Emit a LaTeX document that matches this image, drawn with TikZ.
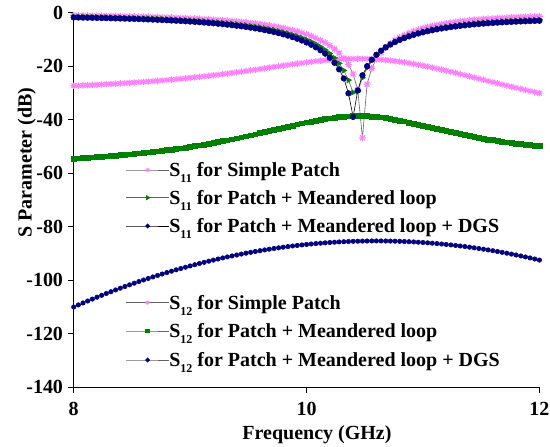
\documentclass[tikz,border=0pt]{standalone}
\usepackage{fontspec}
\setmainfont{Liberation Serif}
\usepackage{pgfplots}
\pgfplotsset{compat=1.18}

\definecolor{spink}{RGB}{255,128,255}
\definecolor{sgreen}{RGB}{0,128,0}
\definecolor{snavy}{RGB}{0,0,128}
\definecolor{trace}{RGB}{100,100,100}

% eight-spoke star marker
\pgfdeclareplotmark{xstar}{%
  \pgfpathmoveto{\pgfpoint{-\pgfplotmarksize}{0pt}}\pgfpathlineto{\pgfpoint{\pgfplotmarksize}{0pt}}%
  \pgfpathmoveto{\pgfpoint{0pt}{-\pgfplotmarksize}}\pgfpathlineto{\pgfpoint{0pt}{\pgfplotmarksize}}%
  \pgfpathmoveto{\pgfpoint{-.707\pgfplotmarksize}{-.707\pgfplotmarksize}}\pgfpathlineto{\pgfpoint{.707\pgfplotmarksize}{.707\pgfplotmarksize}}%
  \pgfpathmoveto{\pgfpoint{-.707\pgfplotmarksize}{.707\pgfplotmarksize}}\pgfpathlineto{\pgfpoint{.707\pgfplotmarksize}{-.707\pgfplotmarksize}}%
  \pgfusepathqstroke}

\newcommand\sbs[1]{\raisebox{-0.28em}{\fontsize{12}{12}\selectfont #1}}

\tikzset{
  txt/.style={font=\fontsize{20}{24}\selectfont\bfseries, inner sep=0pt, outer sep=0pt},
  axisline/.style={line width=1.3pt, draw=black},
  keyline/.style={line width=1pt, draw=trace},
  keydark/.style={line width=1pt, draw=black},
}

\begin{document}
\begin{tikzpicture}
\fill[white] (0pt,0pt) rectangle (550pt,-447pt);
\useasboundingbox (0pt,0pt) rectangle (550pt,-447pt);

% frame and ticks
\begin{scope}[x=1pt,y=-1pt]
  \coordinate (ytop) at (73.7,12.7);
  \coordinate (org)  at (73.7,387.3);
  \coordinate (xend) at (539.4,387.3);
  \draw[axisline] (ytop) -- (org) -- (xend);
  \foreach \v [count=\i] in {0,-20,-40,-60,-80,-100,-120,-140} {
    \pgfmathsetmacro\yy{12.7-\v*2.6757}
    \draw[axisline] (68,\yy) -- (73.7,\yy);
    \node[txt, anchor=east] (ylab\i) at (63,\yy) {\v};
  }
  \foreach \f/\xx [count=\i] in {8/73.7,10/306.55,12/539.4} {
    \draw[axisline] (\xx,387.3) -- (\xx,393.3);
    \node[txt, anchor=base] (xlab\i) at (\xx,415) {\f};
  }
  \node[txt, anchor=base] (xtitle) at (317,439.5) {Frequency (GHz)};
  \node[txt, anchor=base, rotate=90] (ytitle) at (31.5,162.5) {S Parameter (dB)};
\end{scope}

% measured traces
\begin{axis}[
  hide axis, scale only axis,
  width=465.7pt, height=374.6pt,
  xmin=8, xmax=12, ymin=-140, ymax=0,
  at={(73.7pt,-387.3pt)}, anchor=south west, clip=false,
  samples at={0,...,100},
  declare function={
    lor(\d,\w,\e)=10*log10((\d*\d/(\w*\w)+\e)/(1+\d*\d/(\w*\w)));
    drop(\d,\w,\D)=\D*(\d*\d/(\w*\w))/(1+\d*\d/(\w*\w));
    sA(\f)=ifthenelse(\f<10.48, lor(\f-10.48,1.08,0.000022)-0.3, lor(\f-10.48,0.85,0.000022)-0.2);
    sB(\f)=ifthenelse(\f<10.42, lor(\f-10.42,1.2,0.0009)-0.5, lor(\f-10.42,1.05,0.0009)-0.5-0.3*(\f-10.42));
    sC(\f)=ifthenelse(\f<10.4, lor(\f-10.4,1.27,0.00015)-0.7, lor(\f-10.4,1.1,0.00015)-0.7-0.4*(\f-10.4));
    tA(\f)=-17.2-ifthenelse(\f<10.45, drop(\f-10.45,1.31,13), drop(\f-10.45,1.79,30));
    tB(\f)=-38.6-ifthenelse(\f<10.46, drop(\f-10.46,1.25,20), drop(\f-10.46,1.0,16));
    tC(\f)=-85.3-3.65*(\f-10.6)*(\f-10.6);
  }]
  % S12
  \addplot[draw=trace, line width=0.6pt, mark=xstar, mark size=3.2pt,
    mark options={draw=spink, line width=1.1pt}] ({8+0.04*\x},{tA(8+0.04*\x)});
  \addplot[draw=trace, line width=0.6pt, mark=square*, mark size=2.4pt,
    mark options={draw=sgreen, fill=sgreen}] ({8+0.04*\x},{tB(8+0.04*\x)});
  \addplot[draw=trace, line width=0.6pt, mark=*, mark size=2.2pt,
    mark options={draw=snavy, fill=snavy}] ({8+0.04*\x},{tC(8+0.04*\x)});
  % S11
  \addplot[draw=trace, line width=0.6pt, mark=xstar, mark size=3.5pt,
    mark options={draw=spink, line width=1.1pt}] ({8+0.04*\x},{sA(8+0.04*\x)});
  \addplot[draw=trace, line width=0.6pt, mark=triangle*, mark size=3pt,
    mark options={rotate=-90, draw=sgreen, fill=sgreen}] ({8+0.04*\x},{sB(8+0.04*\x)});
  \addplot[draw=black, line width=0.6pt, mark=*, mark size=2.8pt,
    mark options={draw=snavy, fill=snavy}] ({8+0.04*\x},{sC(8+0.04*\x)});
\end{axis}

% legends
\begin{scope}[x=1pt,y=-1pt]
  \foreach \yy/\nm in {170/a,197.7/b,226/c,302.7/d,331/e,360/f} {
    \coordinate (k\nm l) at (126,\yy);
    \coordinate (k\nm m) at (147.7,\yy);
    \coordinate (k\nm r) at (169.3,\yy);
  }
  \draw[keyline] plot[mark=xstar, mark indices={2}, mark size=2pt,
    mark options={draw=spink, line width=0.9pt}] coordinates {(kal) (kam) (kar)};
  \draw[keyline] plot[mark=triangle*, mark indices={2}, mark size=2pt,
    mark options={rotate=-90, draw=sgreen, fill=sgreen}] coordinates {(kbl) (kbm) (kbr)};
  \draw[keydark] plot[mark=*, mark indices={2}, mark size=1.8pt,
    mark options={draw=snavy, fill=snavy}] coordinates {(kcl) (kcm) (kcr)};
  \draw[keyline] plot[mark=xstar, mark indices={2}, mark size=2pt,
    mark options={draw=spink, line width=0.9pt}] coordinates {(kdl) (kdm) (kdr)};
  \draw[keyline] plot[mark=square*, mark indices={2}, mark size=1.8pt,
    mark options={draw=sgreen, fill=sgreen}] coordinates {(kel) (kem) (ker)};
  \draw[keyline] plot[mark=*, mark indices={2}, mark size=1.8pt,
    mark options={draw=snavy, fill=snavy}] coordinates {(kfl) (kfm) (kfr)};

  \node[txt, anchor=base west] (la) at (169.3,176.7) {S\sbs{11} for Simple Patch};
  \node[txt, anchor=base west] (lb) at (169.3,204.4) {S\sbs{11} for Patch + Meandered loop};
  \node[txt, anchor=base west] (lc) at (169.3,232.7) {S\sbs{11} for Patch + Meandered loop + DGS};
  \node[txt, anchor=base west] (ld) at (169.3,309.4) {S\sbs{12} for Simple Patch};
  \node[txt, anchor=base west] (le) at (169.3,337.7) {S\sbs{12} for Patch + Meandered loop};
  \node[txt, anchor=base west] (lf) at (169.3,366.7) {S\sbs{12} for Patch + Meandered loop + DGS};
\end{scope}
\end{tikzpicture}
\end{document}
